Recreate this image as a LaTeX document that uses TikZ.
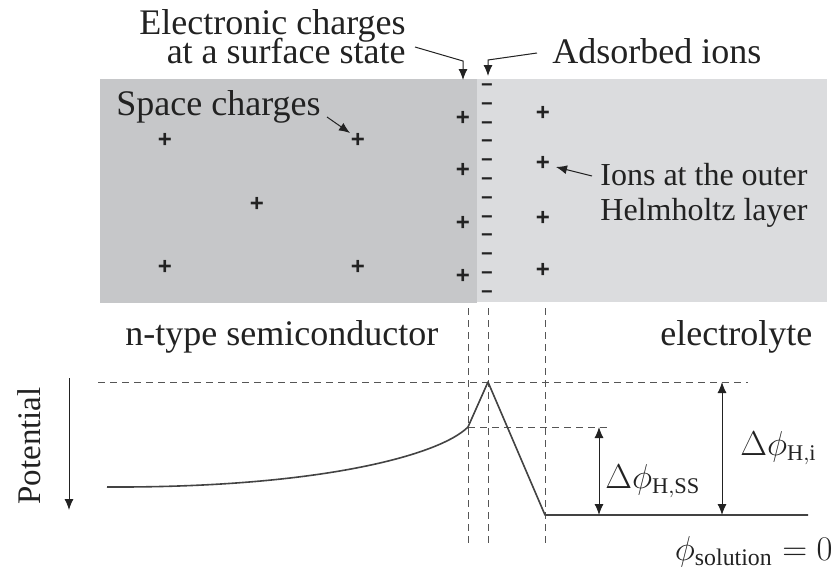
\documentclass[tikz,border=0pt]{standalone}
\usepackage{fontspec}
\setmainfont{Liberation Serif}
\newfontfamily\chargefont{Liberation Sans}
\usetikzlibrary{arrows.meta}
\definecolor{semigray}{HTML}{C6C7C9}
\definecolor{elecgray}{HTML}{DBDCDE}
\definecolor{inkc}{HTML}{222222}
\definecolor{dashgray}{HTML}{555555}
\newcommand\tightlines{\lineskiplimit=-100pt\relax}
\begin{document}
\begin{tikzpicture}[x=0.5pt,y=-0.5pt,
  lbl/.style={font=\fontsize{18}{20}\selectfont, text=inkc, inner sep=0pt, anchor=base west},
  smalllbl/.style={font=\fontsize{16}{18}\selectfont, text=inkc, inner sep=0pt, anchor=base west},
  mathlbl/.style={font=\fontsize{16}{18}\selectfont, text=inkc, inner sep=0pt, anchor=base west},
  poschg/.style={font=\chargefont\bfseries\fontsize{12}{12}\selectfont, text=inkc, inner sep=0pt},
  negcol/.style={font=\chargefont\bfseries\fontsize{10}{9.4}\selectfont, text=inkc, inner sep=0pt, align=center},
  guide/.style={dashgray, line width=0.5pt, dash pattern=on 3.5pt off 2.5pt},
  pointer/.style={inkc, line width=0.5pt, -{Latex[length=5.5pt,width=4.5pt]}},
  dimarrow/.style={inkc, line width=0.5pt, {Latex[length=5.5pt,width=4.5pt]}-{Latex[length=5.5pt,width=4.5pt]}},
  potcurve/.style={inkc!85, line width=0.8pt, line join=round}
]
\useasboundingbox (0,0) rectangle (836,568);
% regions
\fill[semigray] (100,79) rectangle (477,303);
\fill[elecgray] (477,79) rectangle (827,302);

% charges in the semiconductor
\foreach \px/\py [count=\i] in {165/140,358/140,257/204,165/267,358/267}
  \node[poschg] (sc\i) at (\px,\py) {+};
% surface state charges
\foreach \py [count=\i] in {118,170,223,276}
  \node[poschg] (ss\i) at (463,\py) {+};
% adsorbed ions
\node[negcol] (adsorbed) at (487,191) {−\\−\\−\\−\\−\\−\\−\\−\\−\\−\\−\\−};
% outer Helmholtz layer
\foreach \py [count=\i] in {113,163,218,270}
  \node[poschg] (oh\i) at (543,\py) {+};

% labels
\node[font={\fontsize{18}{14.5}\selectfont\tightlines}, text=inkc, inner sep=0pt, align=right, anchor=south east] (elec) at (406,64) {Electronic charges\\at a surface state};
\node[lbl] (adsorb) at (552,63) {Adsorbed ions};
\node[lbl] (space) at (116,115) {Space charges};
\node[smalllbl] (ions1) at (600,185) {Ions at the outer};
\node[smalllbl] (ions2) at (600,220) {Helmholtz layer};
\node[lbl] (ntype) at (125,345) {n-type semiconductor};
\node[lbl] (electrolyte) at (660,345) {electrolyte};
\node[font=\fontsize{16.5}{18}\selectfont, text=inkc, inner sep=0pt, rotate=90, anchor=base west] (potential) at (40,505) {Potential};

% pointer arrows
\coordinate (elecT) at (415,47);
\coordinate (elecK) at (463,61);
\coordinate (elecH) at (463,80);
\draw[pointer] (elecT) -- (elecK) -- (elecH);
\coordinate (adsT) at (537,53);
\coordinate (adsK) at (488,60);
\coordinate (adsH) at (488,76);
\draw[pointer] (adsT) -- (adsK) -- (adsH);
\coordinate (spT) at (327,117);
\coordinate (spH) at (350,133);
\draw[pointer] (spT) -- (spH);
\coordinate (ionT) at (592,176);
\coordinate (ionH) at (556,167);
\draw[pointer] (ionT) -- (ionH);

% potential axis arrow
\coordinate (potTop) at (69,378);
\coordinate (potBot) at (69,510);
\draw[pointer] (potTop) -- (potBot);

% guide lines
\coordinate (start) at (107,487);
\coordinate (ssp) at (468,427);
\coordinate (peak) at (488,382);
\coordinate (ohp) at (545,515);
\coordinate (flatend) at (808,515);
\draw[guide] (468,308) -- (468,545);
\draw[guide] (488,308) -- (488,545);
\draw[guide] (545,308) -- (545,545);
\draw[guide] (98,382) -- (748,382);
\draw[guide] (468,427) -- (607,427);

% potential profile
\draw[potcurve] (start) .. controls (320,488) and (440,455) .. (ssp) -- (peak) -- (ohp) -- (flatend);

% dimension arrows
\coordinate (d1top) at (599,427);
\coordinate (d1bot) at (599,515);
\coordinate (d2top) at (722,382);
\coordinate (d2bot) at (722,515);
\draw[dimarrow] (d1top) -- (d1bot);
\draw[dimarrow] (d2top) -- (d2bot);
\node[mathlbl] (dHSS) at (605,488) {$\Delta\phi_{\mathrm{H,SS}}$};
\node[mathlbl] (dHi) at (740,455) {$\Delta\phi_{\mathrm{H,i}}$};
\node[font=\fontsize{17}{19}\selectfont, text=inkc, inner sep=0pt, anchor=base east] (phisol) at (833,560) {$\phi_{\mathrm{solution}}=0$};
\end{tikzpicture}
\end{document}
